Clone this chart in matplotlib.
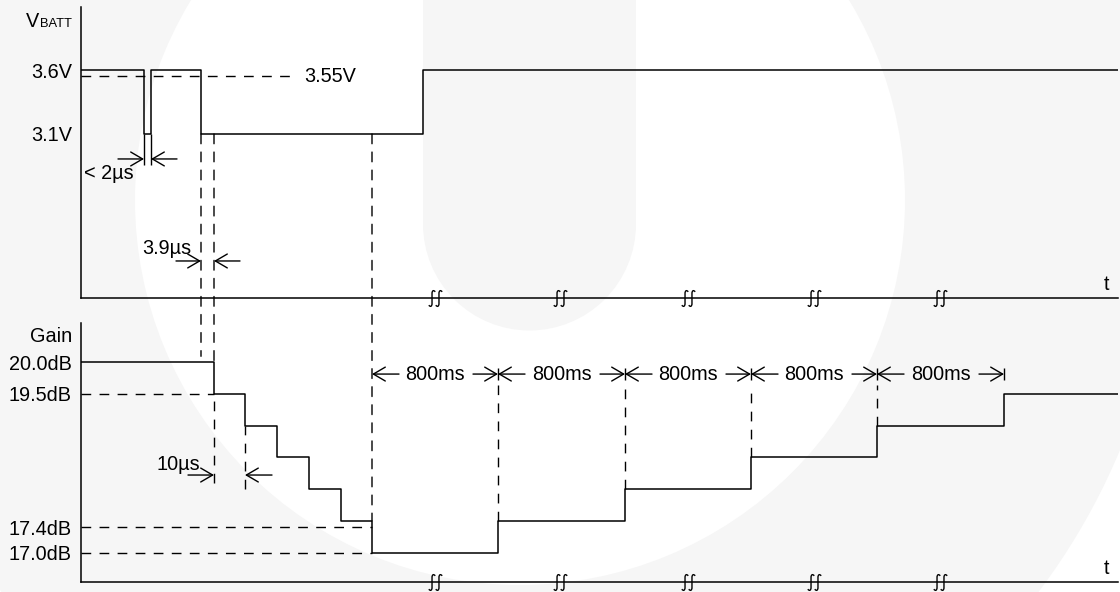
import matplotlib.pyplot as plt
from matplotlib.patches import ConnectionPatch, Wedge, Rectangle, Circle
from matplotlib.path import Path

plt.rcParams['font.family'] = ['Liberation Sans', 'DejaVu Sans']
plt.rcParams['font.size'] = 14.3

# diagram time positions (schematic, broken time axis)
v_t = [81, 144, 151, 201, 423, 1118]
v_level = [3.6, 3.1, 3.6, 3.1, 3.6, 3.6]
v_ticks = [3.6, 3.1]
v_ticklabels = ['3.6V', '3.1V']
v_thresh = 3.55

gain_t = [81, 214, 245, 277, 309, 341, 372, 498, 625, 751, 877, 1004, 1118]
gain_level = [20.0, 19.5, 19.0, 18.5, 18.0, 17.5, 17.0, 17.5, 18.0, 18.5, 19.0, 19.5, 19.5]
gain_ticks = [20.0, 19.5, 17.4, 17.0]
gain_ticklabels = ['20.0dB', '19.5dB', '17.4dB', '17.0dB']

recover_t = [372, 498, 625, 751, 877, 1004]
recover_label = '800ms'
break_t = [435, 560, 688, 814, 940]

W, H = 1120, 592
fig = plt.figure(figsize=(W / 100, H / 100), dpi=100, facecolor='white')

# faint background logo
bg = fig.add_axes([0, 0, 1, 1], zorder=-1)
bg.set_xlim(0, W)
bg.set_ylim(H, 0)
bg.axis('off')
wm = '#f6f6f6'
bg.add_patch(Wedge((520, 200), 650, 0, 360, width=265, color=wm, lw=0))
bg.add_patch(Rectangle((423, -10), 213, 234, color=wm, lw=0))
bg.add_patch(Circle((529.5, 224), 106.5, color=wm, lw=0))


def frac(px0, px1, py_top, py_bot):
    return [px0 / W, 1 - py_bot / H, (px1 - px0) / W, (py_bot - py_top) / H]


ax_v = fig.add_axes(frac(81, 1118, 7, 298))
ax_g = fig.add_axes(frac(81, 1118, 323, 582))

ax_v.set_ylim(3.6 - (298 - 70) / 128, 3.6 + (70 - 7) / 128)
ax_g.set_ylim(20 - (582 - 362) / 63.5, 20 + (362 - 323) / 63.5)

# "ss" break symbol as a marker path
C = Path.CURVE4
brk_verts, brk_codes = [], []
for dx in (-0.22, 0.22):
    brk_verts += [(dx + 0.2, 0.42), (dx + 0.12, 0.55), (dx, 0.52), (dx, 0.32),
                  (dx, -0.32),
                  (dx, -0.52), (dx - 0.12, -0.55), (dx - 0.2, -0.42)]
    brk_codes += [Path.MOVETO, C, C, C, Path.LINETO, C, C, C]
brk_marker = Path(brk_verts, brk_codes)

lw = 1.1
dash = (0, (7, 6))
for ax in (ax_v, ax_g):
    ax.set_xlim(81, 1118)
    ax.patch.set_visible(False)
    for s in ('top', 'right'):
        ax.spines[s].set_visible(False)
    for s in ('left', 'bottom'):
        ax.spines[s].set_linewidth(lw)
    ax.set_xticks([])
    ax.tick_params(axis='y', length=0, pad=6.5, labelsize=14.3)
    ax.annotate('t', xy=(1, 0), xycoords='axes fraction', xytext=(-12, 13),
                textcoords='offset pixels', ha='center', va='center')
    ax.plot(break_t, [ax.get_ylim()[0]] * len(break_t), ls='none',
            marker=brk_marker, markersize=12.5, mfc='none', mec='k', mew=1.0,
            clip_on=False, zorder=5)

ax_v.set_yticks(v_ticks, labels=v_ticklabels)
ax_g.set_yticks(gain_ticks, labels=gain_ticklabels)


def arrow(ax, x_from, x_to, y):
    ax.annotate('', xy=(x_to, y), xytext=(x_from, y),
                arrowprops=dict(arrowstyle='->,head_length=0.6,head_width=0.35',
                                lw=1, color='k', shrinkA=0, shrinkB=0))


# VBATT panel
ax_v.plot(v_t, v_level, drawstyle='steps-post', color='k', lw=lw)
ax_v.hlines(v_thresh, 81, 297, color='k', lw=1, linestyles=[dash])
ax_v.text(304, v_thresh, '3.55V', ha='left', va='center')
ax_v.annotate('BATT', xy=(0, 1), xycoords='axes fraction', xytext=(-9, -20),
              textcoords='offset pixels', ha='right', va='baseline', fontsize=9.3)
ax_v.annotate('V', xy=(0, 1), xycoords='axes fraction', xytext=(-42, -20),
              textcoords='offset pixels', ha='right', va='baseline')

# < 2us glitch
ax_v.vlines([v_t[1], v_t[2]], 2.86, 3.1, color='k', lw=1)
arrow(ax_v, 118, v_t[1], 2.905)
arrow(ax_v, 177, v_t[2], 2.905)
ax_v.text(84, 2.795, '< 2µs', ha='left', va='center')

# 3.9us delay
arrow(ax_v, 176, v_t[3], 2.108)
arrow(ax_v, 240, gain_t[1], 2.108)
ax_v.text(142, 2.209, '3.9µs', ha='left', va='center')

# dashed links between panels
for x, g_end in [(v_t[3], 20.09), (gain_t[1], 20.0), (recover_t[0], 17.5)]:
    con = ConnectionPatch(xyA=(x, 3.1), coordsA=ax_v.transData,
                          xyB=(x, g_end), coordsB=ax_g.transData,
                          color='k', lw=1, linestyle=dash)
    fig.add_artist(con)

# Gain panel
ax_g.plot(gain_t, gain_level, drawstyle='steps-post', color='k', lw=lw)
ax_g.annotate('Gain', xy=(0, 1), xycoords='axes fraction', xytext=(-9, -14),
              textcoords='offset pixels', ha='right', va='center')
ax_g.hlines(gain_ticks[1], 81, gain_t[1], color='k', lw=1, linestyles=[dash])
ax_g.hlines(gain_ticks[2:], 81, recover_t[0], color='k', lw=1, linestyles=[dash])

# 10us step
ax_g.vlines(gain_t[1], 18.1, 19.5, color='k', lw=1, linestyles=[dash])
ax_g.vlines(gain_t[2], 18.0, 19.0, color='k', lw=1, linestyles=[dash])
arrow(ax_g, 188, gain_t[1], 18.22)
arrow(ax_g, 272, gain_t[2], 18.22)
ax_g.text(157, 18.39, '10µs', ha='left', va='center')

# 800ms recovery steps
row = 19.81
for i in range(len(recover_t) - 1):
    a, b = recover_t[i], recover_t[i + 1]
    arrow(ax_g, a + 27, a, row)
    arrow(ax_g, b - 25, b, row)
    ax_g.text((a + b) / 2, row, recover_label, ha='center', va='center')
for x in recover_t[1:]:
    ax_g.vlines(x, row - 0.09, row + 0.09, color='k', lw=1)
    if x != recover_t[-1]:
        ax_g.vlines(x, gain_level[gain_t.index(x)], row - 0.18, color='k', lw=1,
                    linestyles=[dash])

fig.savefig('out.png', dpi=100, facecolor='white')
